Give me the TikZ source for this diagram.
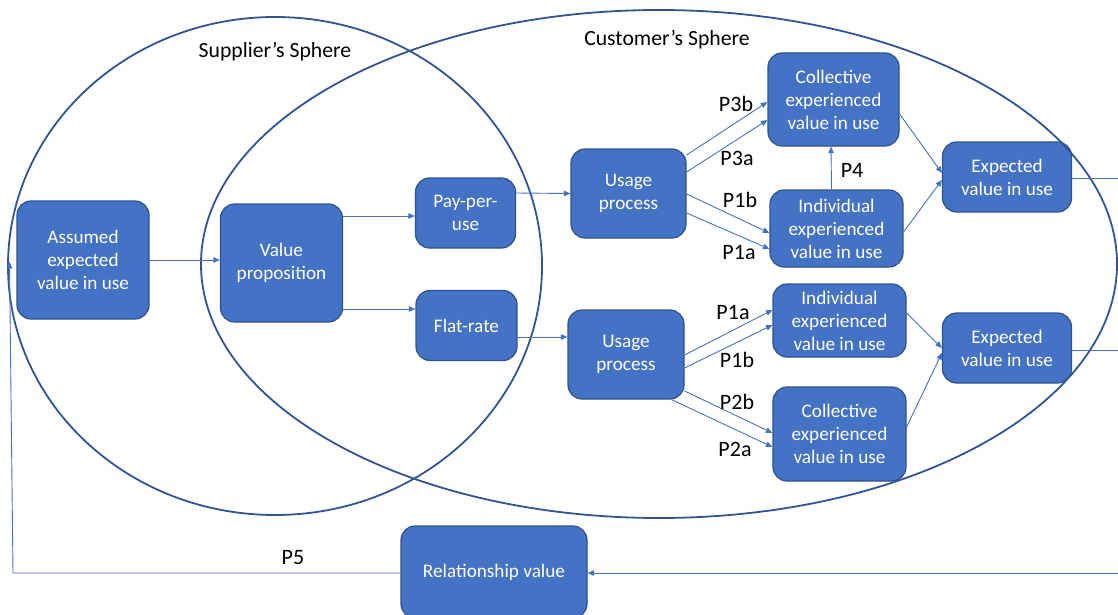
\documentclass[tikz,border=0pt]{standalone}
\usepackage{fontspec}
\setmainfont{Carlito}
\usetikzlibrary{arrows.meta,calc}
\definecolor{boxblue}{HTML}{4472C4}
\definecolor{boxedge}{HTML}{2F528F}
\definecolor{linkblue}{HTML}{4472C4}
\definecolor{sphere}{HTML}{2F5597}

\begin{document}
\begin{tikzpicture}[x=1pt,y=-1pt,
  valuebox/.style={draw=boxedge, fill=boxblue, line width=1.2pt, rounded corners=14pt,
    text=white, align=center, font=\fontsize{19.2}{23}\selectfont, inner sep=0pt},
  link/.style={draw=linkblue, line width=0.9pt, -{Triangle[length=6.5pt,width=5.5pt]}},
  plainlink/.style={draw=linkblue, line width=0.9pt},
  plabel/.style={font=\fontsize{22}{26}\selectfont, text=black, inner sep=0pt},
  spheretitle/.style={font=\fontsize{21.7}{26}\selectfont, text=black, inner sep=0pt},
  spherering/.style={draw=sphere, line width=1.8pt}]
\useasboundingbox (0,0) rectangle (1118,615);

% value boxes
\node[valuebox, minimum width=132pt, minimum height=118pt] (assumed) at (83,260) {Assumed\\expected\\value in use};
\node[valuebox, minimum width=122pt, minimum height=118pt] (vp) at (281.5,263) {Value\\proposition};
\node[valuebox, minimum width=100pt, minimum height=70pt] (ppu) at (465.5,213) {Pay-per-\\use};
\node[valuebox, minimum width=101pt, minimum height=70pt] (flat) at (466.5,325.5) {Flat-rate};
\node[valuebox, minimum width=115pt, minimum height=89pt] (use1) at (628.5,193.5) {Usage\\process};
\node[valuebox, minimum width=116pt, minimum height=89pt] (use2) at (626,354.5) {Usage\\process};
\node[valuebox, minimum width=131pt, minimum height=93pt] (coll1) at (833.5,99.5) {Collective\\experienced\\value in use};
\node[valuebox, minimum width=133pt, minimum height=77pt] (ind1) at (836.5,228.5) {Individual\\experienced\\value in use};
\node[valuebox, minimum width=129pt, minimum height=70pt] (exp1) at (1007,177) {Expected\\value in use};
\node[valuebox, minimum width=133pt, minimum height=73pt] (ind2) at (839.5,320.5) {Individual\\experienced\\value in use};
\node[valuebox, minimum width=133pt, minimum height=94pt] (coll2) at (839.5,434) {Collective\\experienced\\value in use};
\node[valuebox, minimum width=129pt, minimum height=70pt] (exp2) at (1007,348) {Expected\\value in use};
\node[valuebox, minimum width=186pt, minimum height=92pt] (rel) at (494,572) {Relationship value};

% the two spheres
\draw[spherering] (275,266) ellipse [x radius=267pt, y radius=249pt];
\draw[spherering] (659,264) ellipse [x radius=458pt, y radius=254pt];
\node[spheretitle] (suptitle) at (275,52) {Supplier’s Sphere};
\node[spheretitle] (custitle) at (667,40) {Customer’s Sphere};

% open ends of the feedback loop
\coordinate (edgeA) at (1120,178);
\coordinate (edgeB) at (1120,350);
\coordinate (edgeC) at (1120,573);
\coordinate (corner) at (13,573);
\coordinate (feedtip) at (9.5,262);

% supplier side
\draw[link] (assumed.east) -- (assumed.east -| vp.west);
\draw[link] ($(vp.east)+(0,-47)$) -- ($(ppu.west)+(0,3)$);
\draw[link] ($(vp.east)+(0,46)$) -- ($(flat.west)+(0,-16.5)$);
\draw[link] ($(ppu.east)+(0,-20)$) -- (use1.west);
\draw[link] ($(flat.east)+(0,11.5)$) -- ($(use2.west)+(0,-17.5)$);

% pay-per-use branch
\draw[link] ($(use1.east)+(0,-38.5)$) -- ($(coll1.west)+(0,2.5)$);
\draw[link] ($(use1.east)+(0,-21.5)$) -- ($(coll1.west)+(0,20.5)$);
\draw[link] ($(use1.east)+(0,0.5)$) -- ($(ind1.west)+(0,4.5)$);
\draw[link] ($(use1.east)+(0,19.5)$) -- ($(ind1.west)+(0,20.5)$);
\draw[link] ($(ind1.north)+(-5,0)$) -- ($(coll1.south)+(-2.5,0)$);
\draw[link] ($(coll1.east)+(0,14.5)$) -- ($(exp1.west)+(0,-4)$);
\draw[link] ($(ind1.east)+(0,3.5)$) -- ($(exp1.west)+(0,3)$);
\draw[plainlink] ($(exp1.east)+(0,1)$) -- (edgeA);

\node[plabel] (lP3b) at (736,104) {P3b};
\node[plabel] (lP3a) at (737,158) {P3a};
\node[plabel] (lP4) at (852,170) {P4};
\node[plabel] (lP1bt) at (740,200) {P1b};
\node[plabel] (lP1at) at (739,252) {P1a};

% flat-rate branch
\draw[link] ($(use2.east)+(0,0.5)$) -- ($(ind2.west)+(0,-10.5)$);
\draw[link] ($(use2.east)+(0,13.5)$) -- ($(ind2.west)+(0,4.5)$);
\draw[link] ($(use2.east)+(0,36.5)$) -- ($(coll2.west)+(0,-1)$);
\draw[link] ($(use2.south east)+(-13,0)$) -- ($(coll2.west)+(0,13)$);
\draw[link] ($(ind2.east)+(0,-7.5)$) -- ($(exp2.west)+(0,0)$);
\draw[link] ($(coll2.east)+(0,-7)$) -- ($(exp2.west)+(0,5)$);
\draw[plainlink] ($(exp2.east)+(0,2)$) -- (edgeB);

\node[plabel] (lP1ab) at (733,312) {P1a};
\node[plabel] (lP1bb) at (737,360) {P1b};
\node[plabel] (lP2b) at (737,402) {P2b};
\node[plabel] (lP2a) at (735,449) {P2a};

% relationship feedback
\draw[link] (edgeC) -- ($(rel.east)+(0,1)$);
\draw[link] ($(rel.west)+(0,1)$) -- (corner) -- (feedtip);
\node[plabel] (lP5) at (293,558) {P5};
\end{tikzpicture}
\end{document}
